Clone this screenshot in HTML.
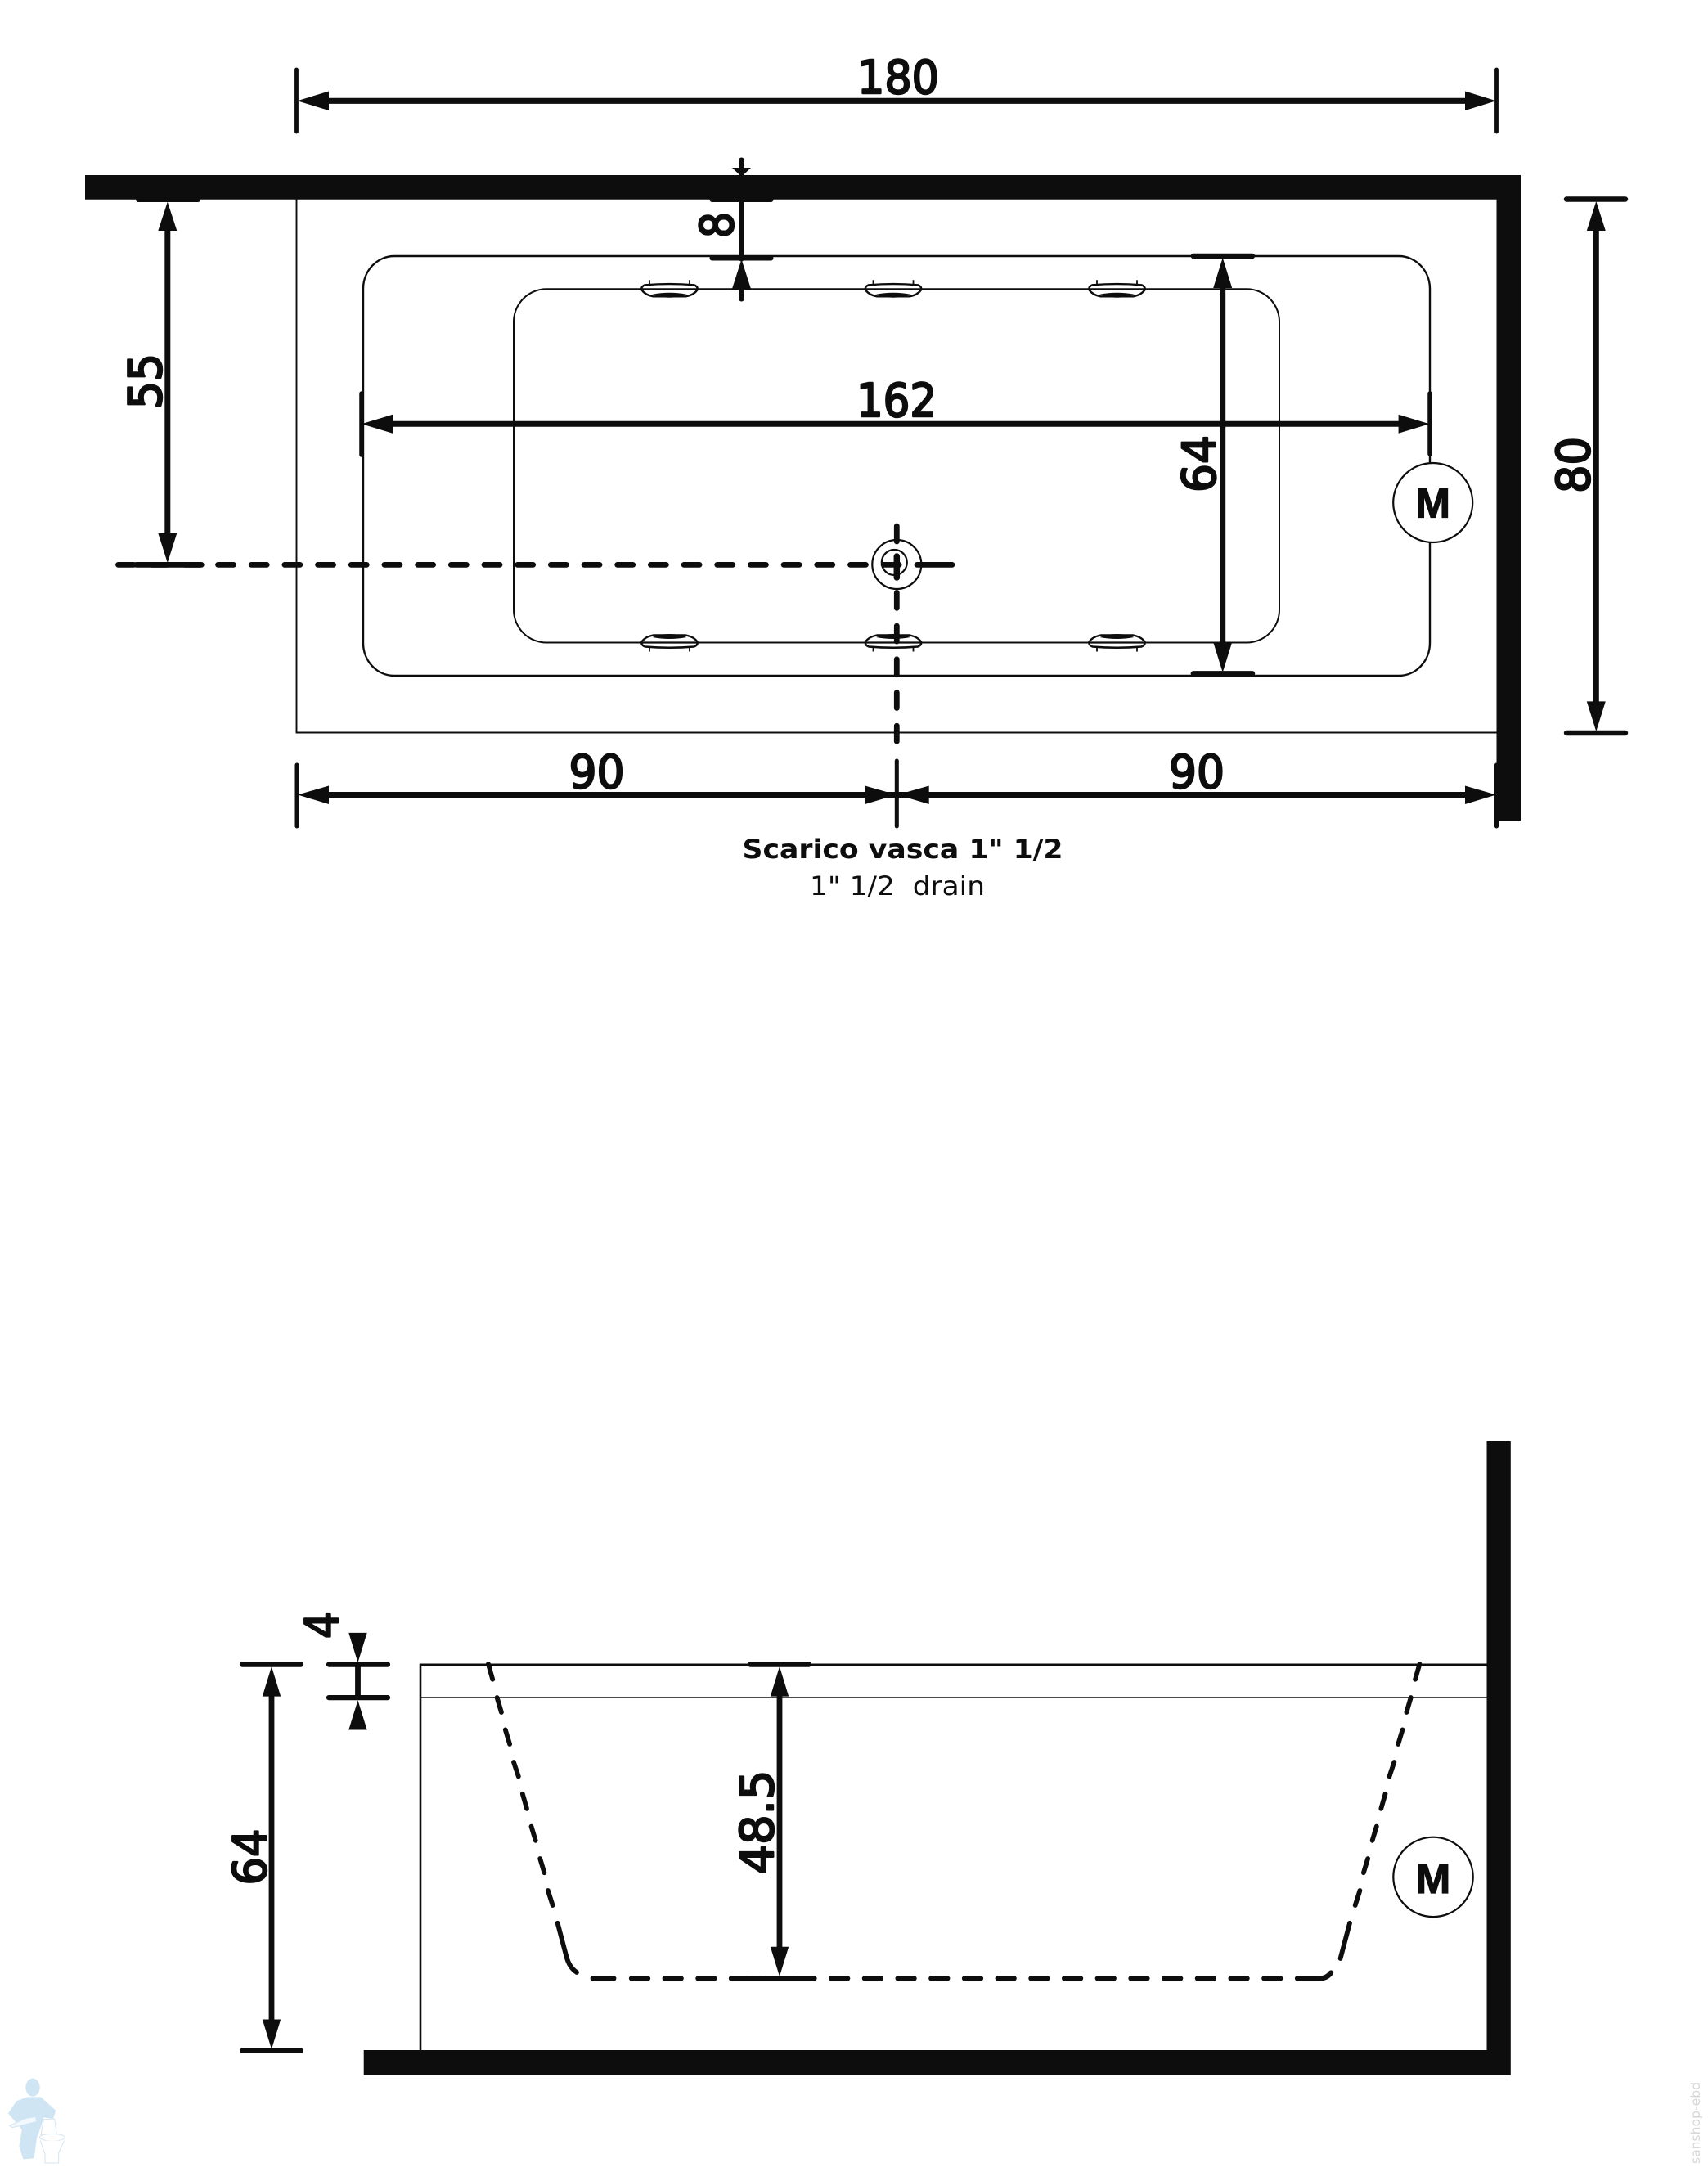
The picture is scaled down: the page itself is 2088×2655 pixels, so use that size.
<!DOCTYPE html>
<html>
<head>
<meta charset="utf-8">
<style>
html,body{margin:0;padding:0;background:#fff;}
svg{display:block;}
.d{font-family:"DejaVu Sans",sans-serif;font-size:56px;fill:#0d0d0d;stroke:#0d0d0d;stroke-width:2.4px;stroke-linejoin:round;text-anchor:middle;}
.m{font-family:"Liberation Sans",sans-serif;font-weight:bold;font-size:51px;fill:#0d0d0d;stroke:#0d0d0d;stroke-width:1.2px;text-anchor:middle;}
.t{font-family:"DejaVu Sans",sans-serif;fill:#0d0d0d;font-size:32px;}
</style>
</head>
<body>
<svg xmlns="http://www.w3.org/2000/svg" width="2088" height="2655" viewBox="0 0 2088 2655">
<defs>
<g id="jet">
<path d="M-24.5 -5V-11M24.5 -5V-11" stroke="#0d0d0d" stroke-width="1.8" fill="none"/>
<path d="M-30 -5Q0 -7.5 30 -5Q35 -3 34 1Q30 7 20 9L-20 9Q-30 7 -34 1Q-35 -3 -30 -5Z" fill="#fff" stroke="#0d0d0d" stroke-width="2.4"/>
<path d="M-33 0H33" stroke="#0d0d0d" stroke-width="2.2"/>
<path d="M-21 6.5Q0 2.5 21 6.5Q12 10.5 0 10.5Q-12 10.5 -21 6.5Z" fill="#0d0d0d"/>
</g>
</defs>
<rect width="2088" height="2655" fill="#fff"/>

<!-- TOP VIEW -->
<g fill="none" stroke="#0d0d0d">
<path d="M362.5 243V895.5H1830" stroke-width="1.9"/>
<rect x="444" y="313" width="1304" height="513" rx="38" ry="40" stroke-width="2.4"/>
<rect x="628" y="353.3" width="936" height="432.2" rx="40" ry="40" stroke-width="2"/>
</g>

<!-- jets -->
<use href="#jet" transform="translate(818.5,353.3)"/>
<use href="#jet" transform="translate(1092,353.3)"/>
<use href="#jet" transform="translate(1365.5,353.3)"/>
<use href="#jet" transform="translate(818.5,785.5) scale(1,-1)"/>
<use href="#jet" transform="translate(1092,785.5) scale(1,-1)"/>
<use href="#jet" transform="translate(1365.5,785.5) scale(1,-1)"/>

<!-- wall -->
<path d="M104 214H1859V1003H1829.5V243.7H104Z" fill="#0d0d0d"/>

<!-- dimension lines -->
<g stroke="#0d0d0d" stroke-linecap="round" fill="none">
<path d="M362.5 85V161M1829.5 85V161" stroke-width="4.8"/>
<path d="M400 123.3H1795" stroke-width="7.2" stroke-linecap="butt"/>
<path d="M442 481V556M1748 481V555" stroke-width="5.5"/>
<path d="M478 518.3H1712" stroke-width="7" stroke-linecap="butt"/>
<path d="M363 935V1010M1096.3 930V1010M1829.5 935V1010" stroke-width="5"/>
<path d="M400 971.5H1792" stroke-width="7" stroke-linecap="butt"/>
<!-- 55 -->
<path d="M169 244H242" stroke-width="6"/>
<path d="M204.8 280V655" stroke-width="7" stroke-linecap="butt"/>
<!-- 8 -->
<path d="M870.5 244H942.5M870.5 315.5H942.5" stroke-width="6"/>
<path d="M906.5 196V212M906.5 244V316M906.5 350V365" stroke-width="7"/>
<!-- 64 inner -->
<path d="M1458.8 313H1531M1458.8 823.3H1531" stroke-width="6.4"/>
<path d="M1494.7 350V790" stroke-width="7" stroke-linecap="butt"/>
<!-- 80 -->
<path d="M1915 243.5H1987M1915 896H1987" stroke-width="6.4"/>
<path d="M1951.3 280V860" stroke-width="7" stroke-linecap="butt"/>
<!-- centre lines -->
<path d="M144.5 690.4H1100" stroke-width="6.8" stroke-dasharray="19 21.68"/>
<path d="M166.6 690.4H246.3M1121 690.4H1164" stroke-width="6.8"/>
<path d="M1096.3 643V912" stroke-width="6.8" stroke-dasharray="19 21.7"/>
</g>

<!-- arrowheads -->
<g fill="#0d0d0d">
<polygon points="363.5,123.3 402,111.5 402,135"/>
<polygon points="1829,123.3 1791,111.5 1791,135"/>
<polygon points="442,518.3 480,506.8 480,529.8"/>
<polygon points="1747.5,518.3 1709.6,506.8 1709.6,529.8"/>
<polygon points="364,971.5 402,960.5 402,983"/>
<polygon points="1096,971.5 1057.5,960.5 1057.5,983"/>
<polygon points="1097,971.5 1135.7,960.5 1135.7,983"/>
<polygon points="1829,971.5 1791,960.5 1791,983"/>
<polygon points="204.8,246.7 193.3,282 216.3,282"/>
<polygon points="204.8,688 193.3,651.8 216.3,651.8"/>
<polygon points="906.5,216 895,205 918,205"/>
<polygon points="906.5,317 895,353 918,353"/>
<polygon points="1494.7,315 1483.2,352 1506.2,352"/>
<polygon points="1494.7,822 1483.2,785 1506.2,785"/>
<polygon points="1951.3,246 1939.8,282 1962.8,282"/>
<polygon points="1951.3,894 1939.8,857.4 1962.8,857.4"/>
</g>

<!-- drain -->
<g fill="none" stroke="#0d0d0d">
<circle cx="1096.3" cy="690" r="30" stroke-width="2.2"/>
<circle cx="1093.3" cy="687.5" r="15.5" stroke-width="2.2"/>
</g>
<path d="M1096.3 680V706" stroke="#0d0d0d" stroke-width="7.5" stroke-linecap="round"/>

<!-- motor -->
<circle cx="1751.7" cy="614.5" r="48.5" fill="#fff" stroke="#0d0d0d" stroke-width="2.2"/>
<text class="m" x="1751.7" y="632.5">M</text>

<!-- dimension text -->
<text class="d" x="1098" y="114" textLength="100" lengthAdjust="spacingAndGlyphs">180</text>
<text class="d" x="1096" y="509" textLength="98" lengthAdjust="spacingAndGlyphs">162</text>
<text class="d" x="729.5" y="963" textLength="68" lengthAdjust="spacingAndGlyphs">90</text>
<text class="d" x="1463" y="963" textLength="68" lengthAdjust="spacingAndGlyphs">90</text>
<text class="d" transform="translate(197,466) rotate(-90)" textLength="68" lengthAdjust="spacingAndGlyphs">55</text>
<text class="d" transform="translate(896,275) rotate(-90)" textLength="32" lengthAdjust="spacingAndGlyphs">8</text>
<text class="d" transform="translate(1485.5,567) rotate(-90)" textLength="70" lengthAdjust="spacingAndGlyphs">64</text>
<text class="d" transform="translate(1943,568.5) rotate(-90)" textLength="69" lengthAdjust="spacingAndGlyphs">80</text>

<text class="t" x="907.5" y="1049" style="font-weight:bold" textLength="392" lengthAdjust="spacingAndGlyphs">Scarico vasca 1" 1/2</text>
<text class="t" x="990" y="1094" textLength="214" lengthAdjust="spacingAndGlyphs">1" 1/2&#160;&#160;drain</text>

<!-- SIDE VIEW -->
<g fill="none" stroke="#0d0d0d">
<path d="M514 2506V2034.8H1818" stroke-width="2.6"/>
<path d="M514 2075.1H1818" stroke-width="1.6"/>
</g>
<path d="M1817.5 1761.7H1846.8V2536.6H444.7V2506H1817.5Z" fill="#0d0d0d"/>

<g stroke="#0d0d0d" stroke-linecap="round" fill="none">
<!-- 64 -->
<path d="M296 2034.6H368M296 2506.8H368" stroke-width="6.2"/>
<path d="M332 2070V2472" stroke-width="6.8" stroke-linecap="butt"/>
<!-- 4 -->
<path d="M402 2034.6H474M402 2075.1H474" stroke-width="6.2"/>
<path d="M437.5 2035V2076" stroke-width="6.8" stroke-linecap="butt"/>
<!-- 48.5 -->
<path d="M917 2034.6H989" stroke-width="6.2"/>
<path d="M953 2070V2383" stroke-width="6.8" stroke-linecap="butt"/>
<!-- base dashes -->
<g stroke-width="6.2">
<path d="M724.7 2418.4H750.3"/>
<path d="M772 2418.4H1576" stroke-dasharray="20 20.7"/>
<path d="M894 2418.4H994"/>
<path d="M1586 2418.4H1613Q1622 2418.4 1627 2411.5"/>
</g>
<!-- slanted dashes -->
<g stroke-width="5.8">
<path d="M596.9 2034L602.2 2052.7"/>
<path d="M607.6 2075L612.9 2093"/>
<path d="M617.8 2114.4L623.1 2132"/>
<path d="M628 2154L633.8 2171.4"/>
<path d="M638.8 2192.8L644 2210.8"/>
<path d="M649.5 2232.6L654.7 2249.8"/>
<path d="M660.2 2272L665.4 2289.2"/>
<path d="M669.9 2311L675.6 2329"/>
<path d="M681.6 2350.8L692.5 2392Q696 2405 705 2411"/>
<path d="M1735.4 2034L1730.1 2052.7"/>
<path d="M1724.7 2075L1719.4 2093"/>
<path d="M1714.5 2114.4L1709.2 2132"/>
<path d="M1704.3 2154L1698.5 2171.4"/>
<path d="M1693.5 2192.8L1688.3 2210.8"/>
<path d="M1682.8 2232.6L1677.6 2249.8"/>
<path d="M1672.1 2272L1666.9 2289.2"/>
<path d="M1662.4 2311L1656.7 2329"/>
<path d="M1650 2350.8L1638.6 2394"/>
</g>
</g>

<g fill="#0d0d0d">
<polygon points="332,2037 320.8,2073.6 343.2,2073.6"/>
<polygon points="332,2505 320.8,2468.5 343.2,2468.5"/>
<polygon points="437.5,2032.3 426.3,1995.9 448.7,1995.9"/>
<polygon points="437.5,2078.2 426.3,2114.5 448.7,2114.5"/>
<polygon points="953,2037 941.8,2073.6 964.2,2073.6"/>
<polygon points="953,2416 941.8,2379.7 964.2,2379.7"/>
</g>

<circle cx="1752" cy="2294.4" r="48.7" fill="#fff" stroke="#0d0d0d" stroke-width="2.2"/>
<text class="m" x="1752" y="2314">M</text>

<text class="d" transform="translate(413,1986.5) rotate(-90)" textLength="33" lengthAdjust="spacingAndGlyphs">4</text>
<text class="d" transform="translate(325,2270) rotate(-90)" textLength="69" lengthAdjust="spacingAndGlyphs">64</text>
<text class="d" transform="translate(945,2227.5) rotate(-90)" textLength="128" lengthAdjust="spacingAndGlyphs">48.5</text>

<!-- plumber logo -->
<g transform="translate(0,2500) scale(.3333)">
<path d="M100 190L150 190L205 240L195 270L160 265L150 300L135 340L125 415L85 418L70 370L80 310L60 285L30 250L60 205Z" fill="#cfe5f4"/>
<ellipse cx="120" cy="155" rx="26" ry="33" fill="#cfe5f4"/>
<path d="M35 295L95 268L130 262L135 280L75 295L45 302Z" fill="#f2f8fc" stroke="#cfe5f4" stroke-width="3"/>
<path d="M160 272L200 270L208 328L150 330Z" fill="#fff" stroke="#d5e4ef" stroke-width="3"/>
<ellipse cx="192" cy="338" rx="47" ry="13" fill="#fff" stroke="#d5e4ef" stroke-width="3"/>
<path d="M148 350Q160 385 165 400L165 432L215 432L215 395L235 350" fill="#fff" stroke="#d5e4ef" stroke-width="3"/>
</g>

<!-- watermark -->
<text transform="translate(2078,2645) rotate(-90)" font-family="'DejaVu Sans',sans-serif" font-size="15" fill="#d6d6d6" textLength="100" lengthAdjust="spacingAndGlyphs">sanshop-ebd</text>
</svg>
</body>
</html>
